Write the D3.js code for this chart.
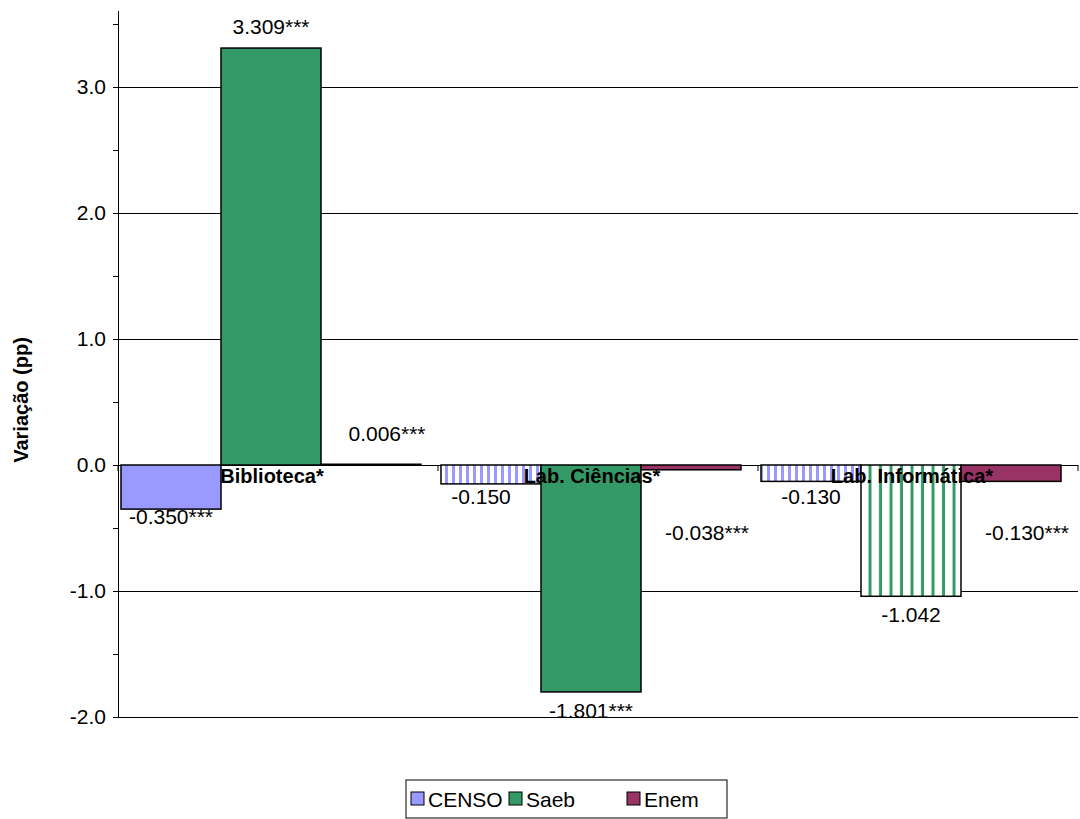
<!DOCTYPE html>
<html><head><meta charset="utf-8">
<script src="https://cdn.jsdelivr.net/npm/d3@7"></script>
<style>body{margin:0;background:#fff}text{font-family:"Liberation Sans",Arial,sans-serif}</style>
</head><body><svg id="c" width="1080" height="819"></svg>
<script>
const categories=["Biblioteca*","Lab. Ciências*","Lab. Informática*"];
const seriesNames=["CENSO","Saeb","Enem"];
const censo=[-0.350,-0.150,-0.130];
const saeb=[3.309,-1.801,-1.042];
const enem=[0.006,-0.038,-0.130];
const labels=[["-0.350***","-0.150","-0.130"],["3.309***","-1.801***","-1.042"],["0.006***","-0.038***","-0.130***"]];
const hatched=[[false,true,true],[false,false,true],[false,false,false]];
const yTicks=[-2,-1,0,1,2,3];
const colors=["#9999FF","#339966","#993366"];
const values=[censo,saeb,enem];
const FS=21;

const svg=d3.select("#c");
const defs=svg.append("defs");
[["p0",colors[0],7,3],["p1",colors[1],10.5,3]].forEach(([id,c,w,sw])=>{
  const p=defs.append("pattern").attr("id",id).attr("patternUnits","userSpaceOnUse").attr("width",w).attr("height",10);
  p.append("rect").attr("width",w).attr("height",10).attr("fill","#fff");
  p.append("rect").attr("x",w-sw).attr("width",sw).attr("height",10).attr("fill",c);
});
const x0=d3.scaleBand().domain(categories).range([118,1078]);
const x1=d3.scaleBand().domain(seriesNames).range([3,303]);
const y=d3.scaleLinear().domain([-2,3.6]).range([717,717-126*5.6]);

svg.append("g").attr("shape-rendering","crispEdges").selectAll("line").data(yTicks).join("line")
 .attr("x1",118).attr("x2",1078).attr("y1",d=>Math.round(y(d))+0.5).attr("y2",d=>Math.round(y(d))+0.5).attr("stroke","#000");
const ya=d3.axisLeft(y).tickValues(d3.range(-2,3.51,0.5)).tickSize(5).tickFormat(d=>Number.isInteger(d)?d.toFixed(1):"");
const yg=svg.append("g").attr("transform","translate(118,0)").attr("shape-rendering","crispEdges").call(ya);
yg.select(".domain").attr("d",`M0,${y(-2)}V${y(3.6)}`);
yg.selectAll("text").attr("font-size",FS).attr("x",-12).attr("font-family","Liberation Sans, Arial");
svg.append("text").attr("transform","translate(28,400) rotate(-90)").attr("text-anchor","middle")
 .attr("font-size",FS-1).attr("font-weight","bold").text("Variação (pp)");
svg.append("g").selectAll("line").data([118,438,758,1078]).join("line")
 .attr("x1",d=>d).attr("x2",d=>d).attr("y1",y(0)).attr("y2",y(0)+6).attr("stroke","#000");

seriesNames.forEach((s,si)=>{
  categories.forEach((c,ci)=>{
    const v=values[si][ci];
    const bx=x0(c)+x1(s), bw=x1.bandwidth();
    svg.append("rect").attr("x",bx).attr("width",bw)
     .attr("y",y(Math.max(0,v))).attr("height",Math.abs(y(v)-y(0)))
     .attr("fill",hatched[si][ci]?`url(#p${si})`:colors[si]).attr("stroke","#000").attr("stroke-width",1.5);
  });
});
svg.append("g").selectAll("text").data(categories).join("text")
 .attr("x",d=>x0(d)+x0.bandwidth()/2-6).attr("y",483).attr("text-anchor","middle")
 .attr("font-size",FS-1).attr("font-weight","bold").text(d=>d);
seriesNames.forEach((s,si)=>{
  categories.forEach((c,ci)=>{
    const v=values[si][ci];
    const cx=x0(c)+x1(s)+x1.bandwidth()/2;
    let ty;
    if(v>=0) ty=y(v)-14; else ty=Math.max(y(v)+26, y(0)+50);
    if(si===0&&ci>0) ty=504;
    if(si===0&&ci===0) ty=524;
    if(si===1&&ci===1) ty=718;
    if(si===2&&ci===0) ty=441;
    if(si===2&&ci>0) ty=540;
    svg.append("text").attr("x",cx+(si===2?16:(si===0&&ci===1?-10:0))).attr("y",ty).attr("text-anchor","middle").attr("font-size",FS).text(labels[si][ci]);
  });
});
const lg=svg.append("g");
lg.append("rect").attr("x",406).attr("y",780).attr("width",321).attr("height",38).attr("fill","#fff").attr("stroke","#000");
const lx=[411,509,627];
seriesNames.forEach((s,i)=>{
  lg.append("rect").attr("x",lx[i]).attr("y",792).attr("width",13).attr("height",13).attr("fill",colors[i]).attr("stroke","#000");
  lg.append("text").attr("x",lx[i]+17).attr("y",807).attr("font-size",FS).text(s);
});
</script></body></html>
